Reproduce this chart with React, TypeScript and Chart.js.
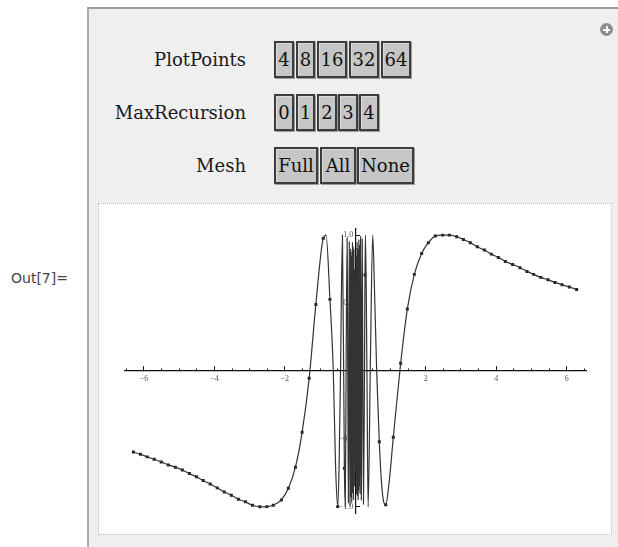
import React, { useEffect, useRef } from "react";
import { Chart, registerables } from "chart.js";

Chart.register(...registerables);

// ---- control labels ----
const controlNames = ["PlotPoints", "MaxRecursion", "Mesh"];
const plotPointsOptions = ["4", "8", "16", "32", "64"];
const maxRecursionOptions = ["0", "1", "2", "3", "4"];
const meshOptions = ["Full", "All", "None"];
const outLabel = "Out[7]=";

// ---- plotted curve ----
const curveX = [
  -6.30, -6.10, -5.91, -5.71, -5.51, -5.31, -5.11, -4.91, -4.71, -4.51,
  -4.32, -4.12, -3.92, -3.72, -3.52, -3.32, -3.12, -2.92, -2.71, -2.60,
  -2.51, -2.33, -2.10, -1.90, -1.70, -1.51, -1.31, -1.12, -0.91, -0.83,
  -0.72, -0.625, -0.56, -0.50, -0.46, -0.42, -0.365, -0.31, -0.285, -0.258,
  -0.232, -0.213, -0.197, -0.182, -0.171, -0.160, -0.150, -0.141, -0.134, -0.121,
  -0.110, -0.101, -0.093, -0.087, -0.081, -0.076, -0.071, -0.067, -0.063, -0.059,
  -0.055, -0.051, -0.047, -0.043, -0.039, -0.035, -0.031, -0.027, -0.023, -0.019,
  -0.015, -0.011, -0.007, -0.003, 0.003, 0.007, 0.011, 0.015, 0.019, 0.023,
  0.027, 0.031, 0.035, 0.039, 0.043, 0.047, 0.051, 0.055, 0.059, 0.063,
  0.067, 0.071, 0.076, 0.081, 0.087, 0.093, 0.101, 0.110, 0.121, 0.134,
  0.141, 0.150, 0.160, 0.171, 0.182, 0.197, 0.213, 0.232, 0.258, 0.275,
  0.290, 0.330, 0.364, 0.430, 0.494, 0.550, 0.607, 0.681, 0.770, 0.863,
  0.960, 1.079, 1.288, 1.477, 1.676, 1.884, 2.074, 2.272, 2.481, 2.670,
  2.878, 3.067, 3.266, 3.465, 3.663, 3.862, 4.061, 4.260, 4.468, 4.676,
  4.875, 5.064, 5.263, 5.471, 5.670, 5.869, 6.077, 6.285,
];
const curveY = [
  -0.596, -0.613, -0.632, -0.650, -0.669, -0.691, -0.708, -0.728, -0.755, -0.779,
  -0.806, -0.831, -0.860, -0.890, -0.914, -0.944, -0.963, -0.988, -0.999, -1.000,
  -0.998, -0.988, -0.949, -0.863, -0.708, -0.451, -0.054, 0.490, 0.976, 1.000,
  0.527, 0.000, -0.700, -0.998, -0.700, 0.000, 1.000, -0.716, -1.000, 0.150,
  0.980, 0.000, -0.970, 0.100, 0.950, -0.200, -0.990, 0.200, 0.900, -0.930,
  0.850, -0.970, 0.880, -0.800, 0.950, -0.900, 0.750, -0.850, 0.920, -0.700,
  0.800, -0.950, 0.650, -0.750, 0.900, -0.600, 0.700, -0.850, 0.550, -0.650,
  0.750, -0.500, 0.600, -0.400, 0.450, -0.600, 0.500, -0.750, 0.650, -0.550,
  0.850, -0.700, 0.600, -0.900, 0.750, -0.650, 0.950, -0.800, 0.700, -0.920,
  0.850, -0.750, 0.900, -0.950, 0.800, -0.880, 0.970, -0.850, 0.930, -0.900,
  -0.200, 0.990, 0.200, -0.950, -0.100, 0.970, 0.000, -0.980, -0.150, 0.706,
  1.000, 0.000, -1.000, 0.100, 1.000, 0.550, 0.000, -0.520, -0.900, -0.985,
  -0.820, -0.488, 0.057, 0.456, 0.711, 0.865, 0.944, 0.993, 1.000, 1.000,
  0.988, 0.968, 0.944, 0.914, 0.890, 0.860, 0.836, 0.806, 0.784, 0.760,
  0.733, 0.711, 0.689, 0.671, 0.652, 0.635, 0.618, 0.600,
];

// ---- mesh (sample) points shown as dots ----
const meshX = [
  -6.30, -6.10, -5.91, -5.71, -5.51, -5.31, -5.11, -4.91, -4.71, -4.51,
  -4.32, -4.12, -3.92, -3.72, -3.52, -3.32, -3.12, -2.92, -2.71, -2.51,
  -2.33, -2.10, -1.90, -1.70, -1.51, -1.31, -1.12, -0.91, -0.72, -0.50,
  -0.31, 0.275, 0.681, 0.863, 1.079, 1.288, 1.477, 1.676, 1.884, 2.074,
  2.272, 2.481, 2.670, 2.878, 3.067, 3.266, 3.465, 3.663, 3.862, 4.061,
  4.260, 4.468, 4.676, 4.875, 5.064, 5.263, 5.471, 5.670, 5.869, 6.077,
  6.285,
];
const meshY = [
  -0.596, -0.613, -0.632, -0.650, -0.669, -0.691, -0.708, -0.728, -0.755, -0.779,
  -0.806, -0.831, -0.860, -0.890, -0.914, -0.944, -0.963, -0.988, -0.999, -0.998,
  -0.988, -0.949, -0.863, -0.708, -0.451, -0.054, 0.490, 0.976, 0.527, -0.998,
  -0.716, 0.706, -0.520, -0.985, -0.488, 0.057, 0.456, 0.711, 0.865, 0.944,
  0.993, 1.000, 1.000, 0.988, 0.968, 0.944, 0.914, 0.890, 0.860, 0.836,
  0.806, 0.784, 0.760, 0.733, 0.711, 0.689, 0.671, 0.652, 0.635, 0.618,
  0.600,
];

// ---- axis settings ----
const xMin = -6.55;
const xMax = 6.55;
const yMin = -1.045;
const yMax = 1.045;
const xMajorStep = 2;
const xMinorStep = 0.5;
const yMajorStep = 0.5;
const yMinorStep = 0.1;

const MINUS = "\u2212";
const TICK_FONT = { family: "'Liberation Serif', serif", size: 8 };

function fmtX(v: number) {
  if (Math.abs(v) < 1e-9) return "";
  return v < 0 ? MINUS + Math.abs(v) : String(v);
}
function fmtY(v: number) {
  if (Math.abs(v) < 1e-9) return "";
  const s = Math.abs(v).toFixed(1);
  return (v < 0 ? MINUS + s : s) + " ";
}

function ControlRow(props: {
  label: string;
  top: number;
  buttons: string[];
  lefts: number[];
  widths: number[];
}) {
  const { label, top, buttons, lefts, widths } = props;
  const h = 37;
  const fontFamily = "'DejaVu Serif', serif";
  const fontSize = 18;
  return (
    <>
      <div
        style={{
          position: "absolute",
          right: 618 - 246,
          top,
          height: h,
          fontFamily,
          fontSize,
          lineHeight: h + "px",
          color: "#1a1a1a",
          whiteSpace: "nowrap",
        }}
      >
        {label}
      </div>
      {buttons.map((b, i) => (
        <div
          key={b}
          style={{
            position: "absolute",
            left: lefts[i],
            top,
            width: widths[i],
            height: h,
            boxSizing: "border-box",
            border: "2px solid #3c3c3c",
            background: "#c6c6c6",
            boxShadow: "inset 1px 1px 0 #dcdcdc, 1px 1px 0 #9a9a9a",
            fontFamily,
            fontSize,
            lineHeight: h - 4 + "px",
            textAlign: "center",
            color: "#111",
            whiteSpace: "nowrap",
            overflow: "hidden",
          }}
        >
          {b}
        </div>
      ))}
    </>
  );
}

export default function App() {
  const canvasRef = useRef<HTMLCanvasElement | null>(null);

  useEffect(() => {
    const canvas = canvasRef.current;
    if (!canvas) return;
    const curveData = curveX.map((x, i) => ({ x, y: curveY[i] }));
    const meshData = meshX.map((x, i) => ({ x, y: meshY[i] }));

    const chart = new Chart(canvas, {
      type: "line",
      data: {
        datasets: [
          {
            data: curveData,
            borderColor: "#333333",
            borderWidth: 1.2,
            pointRadius: 0,
            cubicInterpolationMode: "monotone",
            fill: false,
            xAxisID: "x",
            yAxisID: "y",
          },
          {
            data: meshData,
            showLine: false,
            pointStyle: "rect",
            pointRadius: 2.1,
            pointBorderWidth: 0,
            pointBackgroundColor: "#1e1e1e",
            borderColor: "#1e1e1e",
            xAxisID: "x",
            yAxisID: "y",
          },
        ],
      },
      options: {
        animation: false,
        responsive: false,
        maintainAspectRatio: false,
        layout: { padding: { left: 25.6, right: 25, top: 25, bottom: 21 } },
        plugins: { legend: { display: false }, tooltip: { enabled: false } },
        scales: {
          x: {
            type: "linear",
            axis: "x",
            min: xMin,
            max: xMax,
            position: { y: 0 },
            grid: {
              display: true,
              drawOnChartArea: false,
              drawTicks: true,
              tickLength: -5,
              tickColor: "#111",
              tickWidth: 1,
            },
            border: { display: true, color: "#111", width: 1.2 },
            ticks: {
              stepSize: xMajorStep,
              includeBounds: false,
              autoSkip: false,
              maxRotation: 0,
              padding: 8,
              font: TICK_FONT,
              color: "#555",
              callback: (v: any) => fmtX(Number(v)),
            },
          },
          xm: {
            type: "linear",
            axis: "x",
            min: xMin,
            max: xMax,
            position: { y: 0 },
            grid: {
              display: true,
              drawOnChartArea: false,
              drawTicks: true,
              tickLength: -2.5,
              tickColor: "#111",
              tickWidth: 1,
            },
            border: { display: false },
            ticks: {
              stepSize: xMinorStep,
              includeBounds: false,
              autoSkip: false,
              maxRotation: 0,
              callback: () => "",
            },
          },
          y: {
            type: "linear",
            axis: "y",
            min: yMin,
            max: yMax,
            position: { x: 0 },
            grid: {
              display: true,
              drawOnChartArea: false,
              drawTicks: true,
              tickLength: -5,
              tickColor: "#111",
              tickWidth: 1,
            },
            border: { display: true, color: "#111", width: 1.2 },
            ticks: {
              stepSize: yMajorStep,
              includeBounds: false,
              autoSkip: false,
              padding: 3,
              font: TICK_FONT,
              color: "#555",
              callback: (v: any) => fmtY(Number(v)),
            },
          },
          ym: {
            type: "linear",
            axis: "y",
            min: yMin,
            max: yMax,
            position: { x: 0 },
            grid: {
              display: true,
              drawOnChartArea: false,
              drawTicks: true,
              tickLength: -2.5,
              tickColor: "#111",
              tickWidth: 1,
            },
            border: { display: false },
            ticks: {
              stepSize: yMinorStep,
              includeBounds: false,
              autoSkip: false,
              callback: () => "",
            },
          },
        },
      } as any,
    });
    return () => chart.destroy();
  }, []);

  return (
    <div
      style={{
        position: "absolute",
        left: 0,
        top: 0,
        width: 618,
        height: 547,
        background: "#ffffff",
        overflow: "hidden",
      }}
    >
      <div
        style={{
          position: "absolute",
          left: 11,
          top: 270,
          fontFamily: "'DejaVu Sans', sans-serif",
          fontSize: 14,
          color: "#444",
          whiteSpace: "nowrap",
        }}
      >
        {outLabel}
      </div>
      <div
        style={{
          position: "absolute",
          left: 87,
          top: 7,
          width: 531,
          height: 540,
          background: "#efefef",
          borderTop: "2px solid #9c9c9c",
          borderLeft: "2px solid #ababab",
          boxSizing: "border-box",
        }}
      />
      {/* plus icon */}
      <div
        style={{
          position: "absolute",
          left: 600,
          top: 23,
          width: 13,
          height: 13,
          borderRadius: "50%",
          background: "#8e8e8e",
        }}
      >
        <div style={{ position: "absolute", left: 3, top: 5.5, width: 7, height: 2, background: "#fff" }} />
        <div style={{ position: "absolute", left: 5.5, top: 3, width: 2, height: 7, background: "#fff" }} />
      </div>

      <ControlRow
        label={controlNames[0]}
        top={41}
        buttons={plotPointsOptions}
        lefts={[274, 296, 317, 349, 381]}
        widths={[20, 19, 30, 30, 30]}
      />
      <ControlRow
        label={controlNames[1]}
        top={94}
        buttons={maxRecursionOptions}
        lefts={[274, 296, 317, 338, 359]}
        widths={[20, 19, 20, 20, 20]}
      />
      <ControlRow
        label={controlNames[2]}
        top={147}
        buttons={meshOptions}
        lefts={[274, 320, 357]}
        widths={[44, 36, 57]}
      />

      <div
        style={{
          position: "absolute",
          left: 98,
          top: 203,
          width: 514,
          height: 332,
          boxSizing: "border-box",
          border: "1px dotted #b8b8b8",
          background: "#ffffff",
        }}
      >
        <canvas ref={canvasRef} width={512} height={330} style={{ display: "block" }} />
      </div>
    </div>
  );
}
